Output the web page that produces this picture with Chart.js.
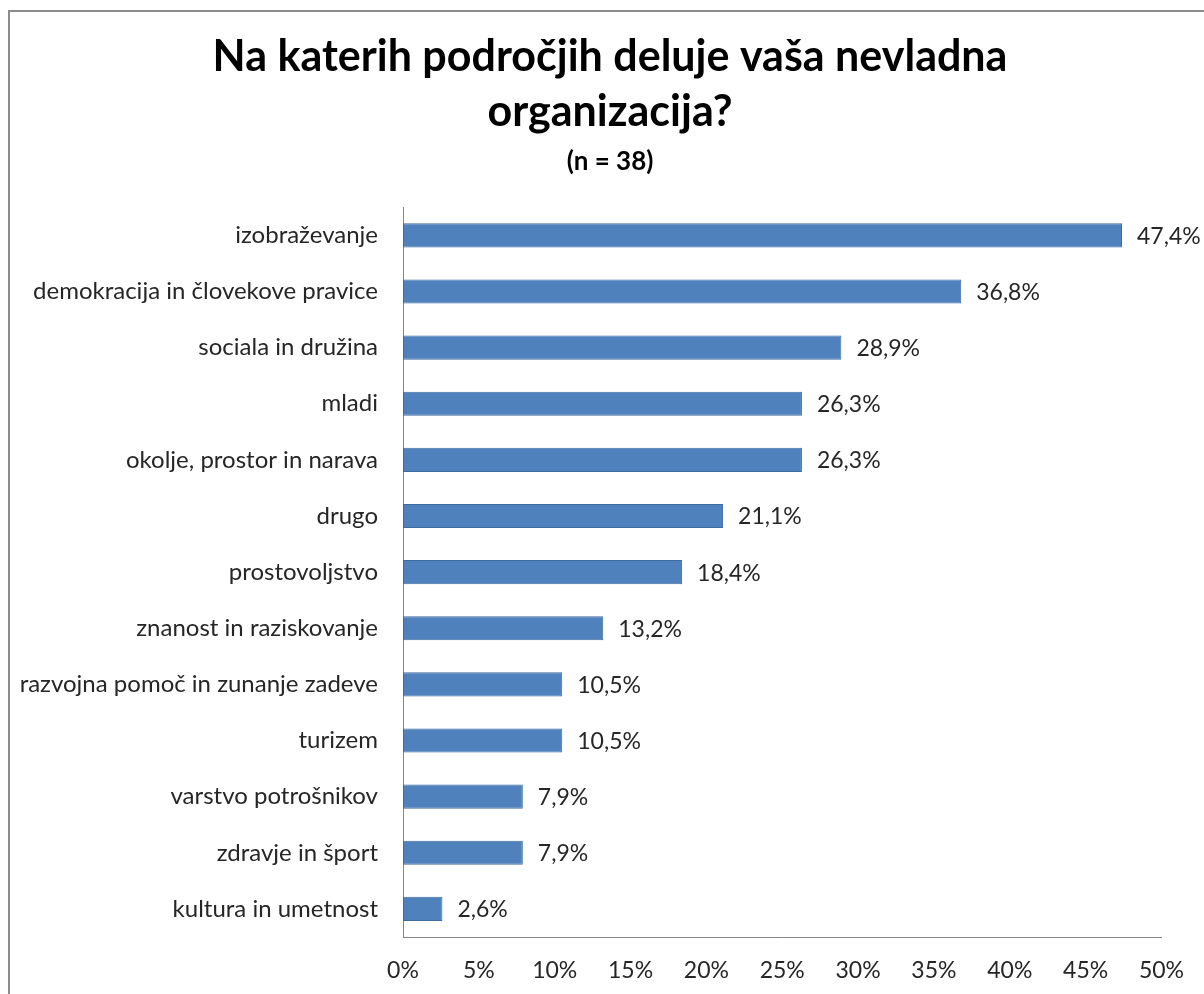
<!DOCTYPE html>
<html>
<head>
<meta charset="utf-8">
<script src="https://cdn.jsdelivr.net/npm/chart.js@4.4.1/dist/chart.umd.min.js"></script>
<style>
    body { margin: 0; background: #fff; }
    #frame {
        position: absolute; left: 8px; top: 10px; width: 1210px; height: 1000px;
        border: 2px solid #8c8c8c; box-sizing: border-box;
    }
    #wrap { position: absolute; left: 0; top: 0; width: 1204px; height: 994px; }
</style>
</head>
<body>
<div id="frame"></div>
<div id="wrap"><canvas id="chart" width="1204" height="994"></canvas></div>
<script>
// Podatki
const categories = [
    'izobraževanje',
    'demokracija in človekove pravice',
    'sociala in družina',
    'mladi',
    'okolje, prostor in narava',
    'drugo',
    'prostovoljstvo',
    'znanost in raziskovanje',
    'razvojna pomoč in zunanje zadeve',
    'turizem',
    'varstvo potrošnikov',
    'zdravje in šport',
    'kultura in umetnost'
];
const values = [47.4, 36.8, 28.9, 26.3, 26.3, 21.1, 18.4, 13.2, 10.5, 10.5, 7.9, 7.9, 2.6];
const xTicks = [0, 5, 10, 15, 20, 25, 30, 35, 40, 45, 50];

const FONT = 'Lato, "Open Sans", sans-serif';
const TEXT = '#262626';

// izpis vrednosti ob stolpcih
const valueLabels = {
    id: 'valueLabels',
    afterDatasetsDraw(chart) {
        const ctx = chart.ctx;
        const meta = chart.getDatasetMeta(0);
        ctx.save();
        ctx.font = '23px ' + FONT;
        ctx.fillStyle = TEXT;
        ctx.textAlign = 'left';
        ctx.textBaseline = 'middle';
        meta.data.forEach((bar, i) => {
            const txt = values[i].toFixed(1).replace('.', ',') + '%';
            ctx.fillText(txt, bar.x + 15, bar.y + 1);
        });
        ctx.restore();
    }
};

// naslov in podnaslov centrirana malo bolj desno (kot v originalu)
const shiftTitle = {
    id: 'shiftTitle',
    afterLayout(chart) {
        chart.boxes.forEach(b => {
            if (b.options && b.options.text !== undefined && !(b instanceof Chart.Scale)) {
                b.left = 56;
                b.width = b.right - b.left;
            }
        });
    }
};

new Chart(document.getElementById('chart').getContext('2d'), {
    type: 'bar',
    data: {
        labels: categories,
        datasets: [{
            data: values,
            backgroundColor: '#4f81bd',
            borderColor: '#3f6c9f',
            borderWidth: 1,
            borderSkipped: false,
            categoryPercentage: 1,
            barPercentage: 0.43
        }]
    },
    options: {
        indexAxis: 'y',
        responsive: false,
        animation: false,
        layout: { padding: { left: 0, right: 40, top: 22, bottom: 0 } },
        plugins: {
            legend: { display: false },
            tooltip: { enabled: false },
            title: {
                display: true,
                text: ['Na katerih področjih deluje vaša nevladna', 'organizacija?'],
                color: '#000',
                font: { family: FONT, size: 43, weight: 'bold', lineHeight: 1.28 },
                padding: { top: 8, bottom: 4 }
            },
            subtitle: {
                display: true,
                text: '(n = 38)',
                color: '#000',
                font: { family: FONT, size: 26, weight: 'bold', lineHeight: 1.2 },
                padding: { top: 2, bottom: 30 }
            }
        },
        scales: {
            x: {
                min: 0,
                max: 50,
                afterBuildTicks(scale) {
                    scale.ticks = xTicks.map(v => ({ value: v }));
                },
                afterFit(scale) { scale.height = 57; },
                grid: { display: false, drawTicks: false },
                border: { display: true, color: '#868686', width: 1 },
                ticks: {
                    color: TEXT,
                    padding: 20,
                    font: { family: FONT, size: 23 },
                    callback: v => v + '%'
                }
            },
            y: {
                afterFit(scale) { scale.width = 403; },
                grid: { display: false, drawTicks: false },
                border: { display: true, color: '#868686', width: 1 },
                ticks: {
                    color: TEXT,
                    padding: 25,
                    font: { family: FONT, size: 24 }
                }
            }
        }
    },
    plugins: [valueLabels, shiftTitle]
});
</script>
</body>
</html>
